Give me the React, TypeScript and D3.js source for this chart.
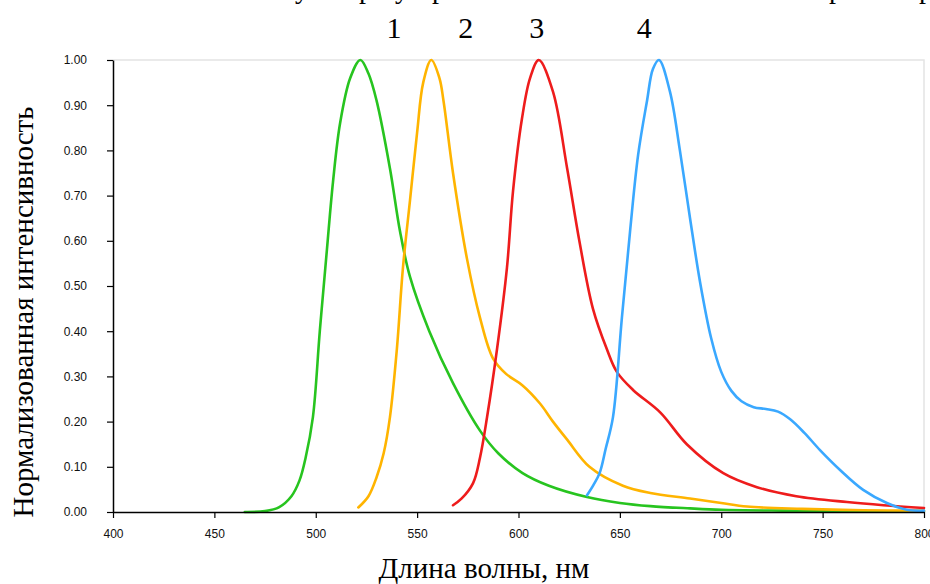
import React, { useEffect, useRef } from 'react';
import * as d3 from 'd3';

// Normalised emission spectra (nm, intensity)
const greenNm = [465, 475, 482, 488, 492, 495, 498.6, 502, 505.5, 508.5, 512, 517, 522, 526, 530, 536.6, 541.6, 546.5, 556, 567.7, 581, 590, 602, 615, 633.8, 650, 665, 684.6, 700, 730, 760, 800];
const greenVal = [0, 0.002, 0.011, 0.035, 0.07, 0.12, 0.21, 0.4, 0.58, 0.73, 0.86, 0.96, 1.0, 0.97, 0.91, 0.76, 0.62, 0.52, 0.4, 0.285, 0.18, 0.13, 0.086, 0.058, 0.033, 0.02, 0.013, 0.008, 0.005, 0.003, 0.002, 0.001];

const yellowNm = [521, 526, 530, 533.5, 536.6, 540, 543, 546.5, 550, 553, 557, 561, 563, 567.7, 574.6, 581, 587.4, 594, 602, 610.6, 617, 624, 635, 651.5, 665, 684.6, 700, 712.7, 740, 770, 800];
const yellowVal = [0.01, 0.035, 0.077, 0.13, 0.21, 0.36, 0.54, 0.69, 0.84, 0.95, 1.0, 0.96, 0.91, 0.75, 0.56, 0.43, 0.34, 0.305, 0.28, 0.24, 0.2, 0.16, 0.1, 0.058, 0.042, 0.03, 0.02, 0.012, 0.007, 0.004, 0.003];

const redNm = [567.7, 572, 577.6, 581, 584.5, 589.4, 594.3, 597.3, 601.7, 605.7, 610, 617, 624, 630, 636.7, 643.6, 648.5, 656.5, 670, 683, 701, 717.6, 737, 762, 780, 800];
const redVal = [0.015, 0.03, 0.064, 0.12, 0.21, 0.36, 0.54, 0.71, 0.87, 0.96, 1.0, 0.93, 0.76, 0.6, 0.45, 0.36, 0.31, 0.27, 0.22, 0.15, 0.086, 0.055, 0.035, 0.022, 0.015, 0.009];

const blueNm = [633.8, 637, 640, 643, 646.6, 651, 655, 659, 663.4, 666.3, 669.3, 674.7, 679.6, 684.6, 689.5, 695, 700, 705, 710, 716, 722, 728, 734, 741, 748.7, 758.6, 770, 781.7, 791.6, 800];
const blueVal = [0.037, 0.06, 0.086, 0.14, 0.21, 0.43, 0.62, 0.79, 0.91, 0.98, 1.0, 0.93, 0.8, 0.65, 0.51, 0.385, 0.31, 0.268, 0.245, 0.232, 0.228, 0.222, 0.205, 0.175, 0.137, 0.093, 0.049, 0.02, 0.005, 0.003];

const seriesColors = ['#27c41f', '#ffb400', '#ee1c1c', '#3aa8ff'];
const seriesLabels = ['1', '2', '3', '4'];
const labelNm = [538.6, 574, 609, 662];

const xTicks = [400, 450, 500, 550, 600, 650, 700, 750, 800];
const yTicks = [0, 0.1, 0.2, 0.3, 0.4, 0.5, 0.6, 0.7, 0.8, 0.9, 1.0];

const App = () => {
  const svgRef = useRef(null);

  useEffect(() => {
    if (!svgRef.current) return;
    const svg = d3.select(svgRef.current);
    svg.selectAll('*').remove();

    const left = 113, right = 924, top = 60, bottom = 512;
    const x = d3.scaleLinear().domain([400, 800]).range([left, right]);
    const y = d3.scaleLinear().domain([0, 1]).range([bottom, top]);

    // light frame at top and right
    svg.append('path')
      .attr('d', `M${left},${top}H${right}V${bottom}`)
      .attr('fill', 'none')
      .attr('stroke', '#e4e4e4')
      .attr('stroke-width', 1.5);

    const line = d3.line()
      .x(d => x(d[0]))
      .y(d => y(d[1]))
      .curve(d3.curveCatmullRom.alpha(0.5));

    const all = [
      [greenNm, greenVal],
      [yellowNm, yellowVal],
      [redNm, redVal],
      [blueNm, blueVal]
    ];
    all.forEach(([nm, val], i) => {
      svg.append('path')
        .datum(nm.map((n, k) => [n, val[k]]))
        .attr('d', line)
        .attr('fill', 'none')
        .attr('stroke', seriesColors[i])
        .attr('stroke-width', 2.6)
        .attr('stroke-linejoin', 'round')
        .attr('stroke-linecap', 'round');
    });

    // axes
    const xAxis = svg.append('g')
      .attr('transform', `translate(0,${bottom})`)
      .call(d3.axisBottom(x).tickValues(xTicks).tickSize(6).tickSizeOuter(0).tickFormat(d3.format('d')));
    const yAxis = svg.append('g')
      .attr('transform', `translate(${left},0)`)
      .call(d3.axisLeft(y).tickValues(yTicks).tickSize(6).tickSizeOuter(0).tickFormat(d3.format('.2f')));

    [xAxis, yAxis].forEach(a => {
      a.select('.domain').attr('stroke', '#000').attr('stroke-width', 1.5);
      a.selectAll('.tick line').attr('stroke', '#000').attr('stroke-width', 1.2);
      a.selectAll('.tick text')
        .attr('fill', '#111')
        .attr('font-family', 'Liberation Sans, Arial, sans-serif')
        .attr('font-size', 12);
    });
    xAxis.selectAll('.tick text').attr('dy', '1.45em');
    yAxis.selectAll('.tick text').attr('x', -26);

    const serif = 'Liberation Serif, Times New Roman, serif';

    // curve numbers above peaks
    seriesLabels.forEach((t, i) => {
      svg.append('text')
        .attr('x', x(labelNm[i]))
        .attr('y', 38)
        .attr('text-anchor', 'middle')
        .attr('font-family', serif)
        .attr('font-size', 30)
        .text(t);
    });

    // axis titles
    svg.append('text')
      .attr('x', 484)
      .attr('y', 578)
      .attr('text-anchor', 'middle')
      .attr('font-family', serif)
      .attr('font-size', 29)
      .text('Длина волны, нм');

    svg.append('text')
      .attr('transform', 'translate(33,312) rotate(-90)')
      .attr('text-anchor', 'middle')
      .attr('font-family', serif)
      .attr('font-size', 29)
      .text('Нормализованная интенсивность');

    // clipped line of caption text at the very top
    const capX = [302, 366, 402, 439, 836, 926];
    const capT = ['у', 'р', 'у', 'р', 'р', 'р'];
    const cap = svg.append('text')
      .attr('y', -2)
      .attr('font-family', serif)
      .attr('font-size', 28);
    capT.forEach((t, i) => {
      cap.append('tspan').attr('x', capX[i]).attr('text-anchor', 'middle').text(t);
    });
  }, []);

  return (
    <svg
      ref={svgRef}
      width={930}
      height={584}
      style={{ position: 'absolute', left: 0, top: 0, background: '#fff' }}
    />
  );
};

export default App;
